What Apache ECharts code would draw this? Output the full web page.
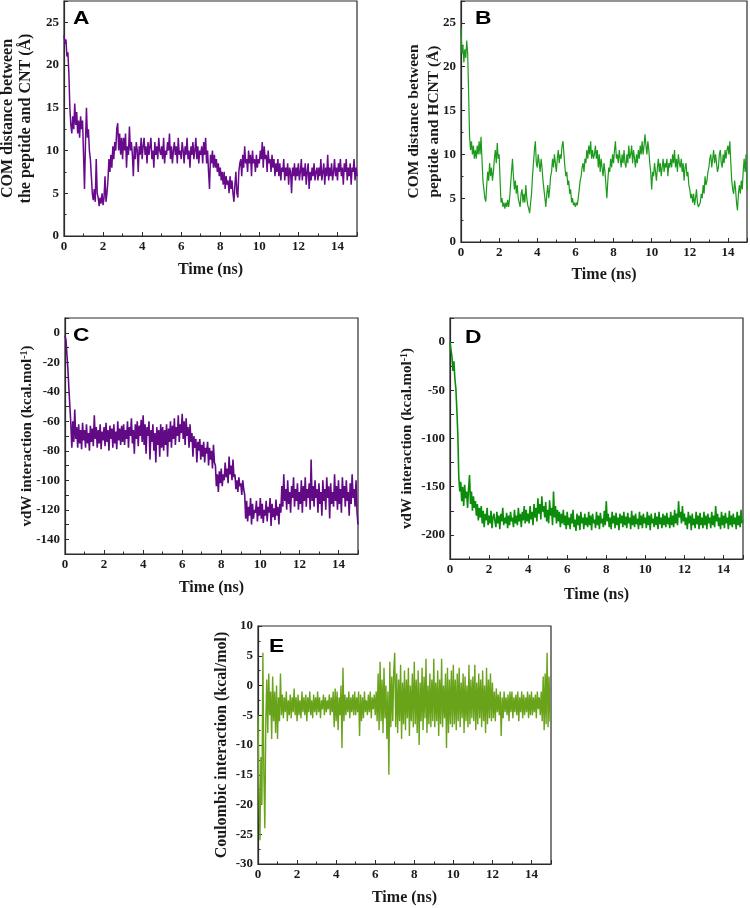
<!DOCTYPE html>
<html>
<head>
<meta charset="utf-8">
<script src="https://cdn.jsdelivr.net/npm/echarts@6/dist/echarts.min.js"></script>
<style>
html,body{margin:0;padding:0;background:#fff;}
#c{width:750px;height:908px;}
</style>
</head>
<body>
<div id="c"></div>
<script>
// Sampling step of all traces (ns); each row below = 1 ns (20 samples)
const timeStep = 0.05;

// A: COM distance peptide - CNT (Å), t = 0.00 ... 15.00
const comCNT = [
  23.5, 22.5, 23, 21, 21.5, 19, 15, 13, 12, 14, 12.5, 15.5, 13, 14.5, 12, 13.5, 11.5, 14, 12.5, 13.5,
  9.5, 5.5, 11, 15, 11.5, 12.5, 10, 9, 7, 5, 4.2, 5.5, 4, 9, 5, 4.5, 3.5, 4.5, 3.8, 5,
  3.6, 4.5, 7, 4, 5, 6.5, 9, 7.5, 9.5, 8, 10.5, 9, 11, 10, 12.5, 13.2, 10, 12, 9.5, 11.5,
  9, 11.5, 10, 12, 8, 10.5, 9.5, 12.8, 10, 11, 9.5, 7, 10.5, 9, 11, 10, 7.5, 10.5, 9.5, 11.5,
  9, 10.5, 11.5, 9.5, 10.5, 8.5, 11, 9.5, 10.5, 11.5, 9, 10, 8, 11, 9.5, 10.5, 9, 11.5, 10, 9.5,
  10.5, 9, 11.5, 8.5, 10, 9.5, 11, 10, 12, 9, 10.5, 8.5, 10, 11, 9.5, 10.5, 8.5, 11.5, 9.5, 10,
  9, 11, 10, 8.5, 10.5, 9.5, 11.5, 9, 10, 8, 10.5, 9.5, 11, 9, 10, 11.5, 9, 10.5, 8.5, 10,
  9.5, 10.5, 8.5, 11, 9.5, 11.5, 8.5, 10, 7.5, 5.5, 9.5, 8.5, 10, 8, 9.5, 8, 9, 7.5, 8.5, 7,
  8, 6.5, 7.5, 6, 7.5, 5.5, 7, 6, 6.5, 5, 7, 5.5, 6.5, 5, 4, 6, 7.5, 5, 4.5, 7.5,
  8.5, 9, 7, 9.5, 8, 10.5, 8.5, 9, 7.5, 10, 8.5, 9.5, 7, 10, 8.5, 9, 7.5, 9.5, 8, 9,
  8.5, 10, 9, 11, 8, 10.5, 9, 9.5, 7.5, 10, 8.5, 9, 7.5, 9.5, 8, 9, 7, 8.5, 7.5, 9,
  7, 8.5, 6.5, 8, 7.5, 9, 6.5, 8, 7, 8.5, 6, 8, 7.5, 5, 8, 7, 8.5, 6.5, 8, 7,
  8.5, 6.5, 7.5, 9, 6.5, 8, 7, 8.5, 6, 7.5, 8.5, 5.5, 7.5, 6.5, 8, 7, 8.5, 6.5, 7.5, 8,
  6.5, 8, 7, 9, 6.5, 7.5, 8.5, 6, 8, 7, 9.5, 6.5, 8, 7, 8.5, 6.5, 7.5, 9, 7, 8,
  6.5, 8.5, 7.5, 9, 7, 8, 6, 8.5, 7.5, 9, 6.5, 8, 7, 8.5, 6, 8, 7.5, 9, 6.5, 8,
  7
];

// B: COM distance peptide - HCNT (Å)
const comHCNT = [
  24.5, 21.5, 22.5, 20.5, 22, 21, 23, 21.5, 17, 12, 10.5, 11.5, 10, 11, 9.5, 10.5, 9.5, 11, 10, 11.5,
  10, 12, 9.5, 7, 6, 5, 4.6, 6.5, 8, 7, 9, 7.5, 8.5, 7, 8, 9.5, 10.5, 9, 11.3, 9.5,
  10, 7, 4.5, 5, 4, 4.5, 3.8, 4.5, 4, 4.8, 4, 5, 6.5, 8, 9.5, 7.5, 6, 7, 5.5, 6.5,
  5, 4.5, 4, 5.5, 6, 4.5, 5.5, 4.5, 6.5, 5, 4.2, 3.8, 3.3, 4.5, 5.5, 7.5, 9, 10.5, 11.5, 9,
  8.5, 10, 9, 8, 9.5, 8.5, 7, 6, 5, 4, 5.5, 6.5, 5, 6, 7.5, 8, 9.5, 8.5, 10, 9,
  8, 9.5, 10.5, 9, 10, 9.5, 11, 11.5, 10, 8.5, 7.5, 8, 6.5, 7, 5.5, 6, 4.5, 5, 4.2, 4.5,
  4, 4.5, 4.2, 5, 6, 7, 7.5, 8.5, 9, 8, 9.5, 9, 10.5, 9.5, 11, 10, 11.5, 9.5, 10.5, 9.5,
  10, 11, 9.5, 10.5, 8.5, 10, 8, 9.5, 8.5, 7.5, 9, 8, 6.5, 5, 7, 8.5, 8, 9.5, 8.5, 10,
  9, 10.5, 11.5, 9.5, 10, 9, 10.5, 9.5, 8.5, 10, 9, 10.5, 9, 8.5, 10, 9, 11, 9.5, 10, 11,
  9, 10.5, 9.5, 8.5, 10, 9, 10.5, 9.5, 11, 10, 11.5, 10, 11, 12.3, 11, 10, 11.5, 10.5, 9, 8,
  6, 8, 7.5, 9, 8, 7, 8.5, 9.5, 8, 9, 7.5, 8.5, 9.5, 8, 9, 8.5, 9.5, 7.5, 9, 8.5,
  9.5, 8.5, 10, 9, 10.5, 8.5, 9.5, 8, 10, 9, 8.5, 9.5, 8, 9, 7, 8.5, 9, 7.5, 8, 6.5,
  6, 5, 5.5, 4.5, 5.5, 4.2, 5, 6, 4.5, 4, 3.8, 4.5, 5.5, 5, 6.5, 5.5, 7.5, 6.5, 7, 8,
  8.5, 9.5, 10, 8.5, 9.5, 10.5, 9, 10, 9, 8, 8.5, 10, 10.5, 9, 8.5, 10, 9, 10.5, 9.5, 10.5,
  11, 10, 11.5, 9, 7, 6, 5.5, 7, 6, 4.5, 3.6, 5.5, 6.5, 5.5, 7, 6, 8, 9.5, 8, 10,
  6
];

// C: vdW interaction peptide - CNT (kcal/mol)
const vdwCNT = [
  -2, -5, -15, -25, -38, -50, -62, -78, -60, -74, -52, -72, -64, -78, -62, -75, -66, -79, -61, -73,
  -66, -78, -62, -75, -68, -80, -63, -74, -65, -77, -56, -72, -64, -78, -66, -75, -62, -79, -67, -73,
  -64, -77, -61, -74, -66, -80, -63, -72, -65, -78, -62, -75, -67, -79, -60, -73, -65, -76, -63, -74,
  -62, -76, -66, -72, -60, -78, -64, -70, -58, -75, -66, -82, -62, -72, -60, -77, -63, -70, -59, -74,
  -56, -76, -62, -82, -64, -70, -60, -86, -66, -74, -62, -80, -68, -88, -64, -76, -66, -84, -62, -78,
  -64, -80, -66, -76, -62, -84, -65, -74, -60, -78, -63, -72, -58, -76, -64, -70, -56, -74, -62, -68,
  -55, -72, -60, -76, -58, -70, -64, -78, -62, -74, -68, -84, -70, -78, -72, -88, -74, -80, -72, -86,
  -76, -84, -74, -88, -78, -82, -74, -90, -78, -86, -80, -92, -76, -88, -90, -104, -96, -108, -94, -102,
  -92, -104, -96, -100, -88, -98, -92, -102, -84, -96, -90, -100, -86, -98, -96, -106, -100, -108, -98, -104,
  -102, -110, -100, -106, -110, -126, -114, -128, -118, -124, -112, -130, -116, -126, -120, -122, -114, -128, -118, -124,
  -112, -126, -116, -129, -120, -124, -114, -128, -118, -122, -112, -131, -116, -125, -119, -127, -113, -124, -118, -130,
  -116, -122, -104, -118, -96, -114, -106, -120, -100, -116, -108, -122, -104, -112, -98, -118, -106, -114, -102, -120,
  -108, -116, -100, -122, -104, -114, -98, -118, -106, -112, -102, -120, -86, -114, -104, -118, -100, -112, -106, -122,
  -102, -116, -108, -124, -100, -114, -106, -120, -98, -112, -104, -126, -102, -116, -108, -118, -96, -114, -104, -120,
  -100, -116, -106, -122, -98, -112, -104, -118, -100, -114, -108, -124, -102, -116, -96, -112, -106, -118, -100, -122,
  -130
];

// D: vdW interaction peptide - HCNT (kcal/mol)
const vdwHCNT = [
  0, -8, -15, -30, -20, -38, -48, -70, -95, -140, -155, -145, -165, -150, -170, -148, -162, -155, -172, -152,
  -138, -168, -155, -175, -160, -172, -165, -180, -168, -185, -172, -182, -170, -188, -175, -192, -178, -185, -172, -190,
  -180, -188, -175, -193, -182, -178, -186, -192, -176, -188, -180, -194, -178, -186, -172, -190, -182, -188, -177, -193,
  -180, -190, -176, -186, -182, -192, -174, -188, -180, -190, -172, -186, -178, -192, -176, -185, -170, -188, -174, -186,
  -178, -188, -170, -184, -176, -190, -168, -182, -172, -186, -162, -178, -168, -184, -160, -176, -170, -182, -166, -186,
  -174, -188, -164, -180, -172, -190, -155, -182, -170, -188, -174, -186, -176, -192, -178, -188, -174, -190, -180, -194,
  -176, -190, -182, -194, -178, -188, -174, -192, -184, -196, -178, -190, -180, -195, -176, -188, -182, -194, -178, -190,
  -182, -192, -176, -190, -180, -195, -178, -188, -184, -193, -176, -190, -180, -194, -177, -188, -183, -192, -175, -190,
  -165, -186, -178, -192, -182, -194, -176, -188, -180, -193, -177, -190, -182, -195, -178, -188, -180, -192, -176, -190,
  -181, -193, -177, -188, -182, -194, -175, -190, -180, -192, -178, -189, -183, -194, -176, -190, -180, -193, -178, -188,
  -182, -193, -176, -190, -180, -195, -178, -188, -183, -192, -177, -190, -181, -194, -176, -189, -182, -193, -178, -190,
  -180, -192, -177, -189, -182, -193, -176, -190, -180, -192, -174, -188, -178, -190, -165, -182, -176, -188, -170, -186,
  -178, -190, -182, -194, -176, -188, -180, -195, -178, -190, -183, -193, -176, -189, -180, -194, -177, -190, -182, -193,
  -176, -190, -180, -194, -178, -188, -182, -193, -176, -190, -180, -192, -170, -186, -178, -191, -182, -194, -176, -190,
  -180, -193, -177, -188, -182, -194, -175, -190, -180, -192, -178, -189, -182, -194, -176, -190, -180, -192, -174, -188,
  -185
];

// E: Coulombic interaction (kcal/mol)
const coulomb = [
  -5, -18, -26, -12, -20, 5.5, -15, -24, -6, 1, -8, 2, -5, -1, -9, 1.5, -6, -1, -8, 0,
  -9, -2, -6, 2, -5, -1.5, -5.5, -2, -4.5, -1, -6, -2.5, -5, -1.5, -5.5, -2, -4.5, -0.5, -5, -2,
  -6, -1.5, -5, -2.5, -5.5, -1, -4.5, -2, -5, -1.5, -6, -2, -4.5, -1, -5, -2.5, -5.5, -1.5, -4.5, -2,
  -5, -1, -4.5, -2, -5.5, -2.5, -4, -1.5, -5, -2, -4.5, -2.5, -4, -1.5, -5, -2, -4.5, -1, -7, -0.5,
  -6, -1, -7.5, -2, -5, 0, -10.5, 3, -6, -1.5, -5, -2, -4.5, -1, -5.5, -2, -4.5, -1.5, -5, -1,
  -5, -2, -4.5, -1, -8.5, -1.5, -6, -2, -5.5, -1, -4.5, -2.5, -5, -1.5, -4.5, -1, -5.5, -2, -4, -1.5,
  -5, -1, -6, 2, -7.5, 4, -6, 1, -8, 3, -5.5, 0, -9, -1, -15, 4, -7, 1.5, -6, 2.5,
  5.5, -7, 2, -8, 1, -6, 3.5, -9, 0.5, -6.5, 2.5, -7.5, 1, -5.5, 3, -8.5, 0, -6, 2, -7,
  4, -6.5, 1, -8, 2.5, -10, 0.5, -6, 3, -7.5, 1.5, -5.5, 4.5, -8, 0, -6.5, 2, -7, 1, -6,
  4.5, -7, 0.5, -6, 2.5, -8.5, 1, -6.5, 4.5, -7, 0, -5.5, 2, -10.5, 3, -8, 1, -6.5, 2.5, -7,
  3.5, -6.5, 1, -7.5, 2, -6, 3, -7, 0.5, -5.5, 2, -8, 1.5, -6, 0, -7, 3.5, -6.5, 1, -5.5,
  1.5, -6, 3.5, -7.5, 0.5, -6.5, 2, -5.5, 1, -7, 2.5, -6, 0, -8, 3, -6.5, 1, -5.5, 2, -6,
  0.5, -5.5, -1, -6, -0.5, -4.5, -1.5, -5, -1, -8.5, -2, -5.5, -1, -4.5, -2, -5, -1.5, -6, -1, -4.5,
  -1, -5.5, -2, -4.5, -1.5, -5, -1, -6, -2, -4.5, -1, -5.5, -1.5, -5, -2, -4.5, -1, -5.5, -1.5, -5,
  -1, -5, -2, -4.5, -1.5, -5.5, -1, -4, -2, -5, -1, -6, 1.5, -7.5, 2, -6.5, 5.5, -7, 1.5, -6,
  -6
];

const SERIF = '"Liberation Serif","Times New Roman",serif';
const SANS = '"Liberation Sans",Arial,sans-serif';
const AX = '#2b2b2b';
const TXT = '#1a1a1a';

function pairs(arr) {
  return arr.map((v, i) => [Math.round(i * timeStep * 100) / 100, v]);
}

const grids = [
  {left: 64, top: 1, width: 293, height: 235},
  {left: 461, top: 1, width: 286, height: 241},
  {left: 65, top: 318, width: 293, height: 236},
  {left: 450, top: 318, width: 293, height: 241},
  {left: 258, top: 626, width: 293, height: 238}
].map(g => Object.assign({show: true, borderColor: AX, borderWidth: 1.2, containLabel: false, outerBoundsMode: 'none'}, g));

const xGaps = [26, 25, 26, 28, 26];
const xAxes = grids.map((g, i) => ({
  type: 'value', gridIndex: i, min: 0, max: 15, interval: 2,
  name: 'Time (ns)', nameLocation: 'middle', nameGap: xGaps[i], nameMoveOverlap: false,
  nameTextStyle: {fontFamily: SERIF, fontWeight: 'bold', fontSize: 16, color: TXT},
  axisLine: {show: true, onZero: false, lineStyle: {color: AX, width: 1.2}},
  axisTick: {show: true, inside: true, length: 4, lineStyle: {color: AX}},
  minorTick: {show: true, splitNumber: 2, length: 2.5, lineStyle: {color: AX}},
  splitLine: {show: false},
  axisLabel: {fontFamily: SERIF, fontWeight: 'bold', fontSize: 13, color: TXT, margin: 4, showMaxLabel: false}
}));

const yBase = {
  type: 'value', nameLocation: 'middle', nameMoveOverlap: false,
  axisLine: {show: true, onZero: false, lineStyle: {color: AX, width: 1.2}},
  axisTick: {show: true, inside: true, length: 4, lineStyle: {color: AX}},
  splitLine: {show: false},
};
const yLabel = {fontFamily: SERIF, fontWeight: 'bold', fontSize: 13, color: TXT, margin: 5};
const nameStyle = {fontFamily: SERIF, fontWeight: 'bold', fontSize: 16, color: TXT};
const minor = {show: true, splitNumber: 2, length: 2.5, lineStyle: {color: AX}};
const supRich = {
  a: Object.assign({}, nameStyle, {fontSize: 15, lineHeight: 16}),
  s: Object.assign({}, nameStyle, {fontSize: 10, lineHeight: 16, verticalAlign: 'top'})
};

const yAxes = [
  Object.assign({}, yBase, {
    gridIndex: 0, min: 0, max: 27.5, interval: 5,
    name: 'COM distance between\nthe peptide and CNT (Å)', nameGap: 29,
    nameTextStyle: Object.assign({}, nameStyle, {lineHeight: 18}),
    minorTick: minor,
    axisLabel: Object.assign({}, yLabel, {showMaxLabel: false})
  }),
  Object.assign({}, yBase, {
    gridIndex: 1, min: 0, max: 27.5, interval: 5,
    name: 'COM distance between\npeptide and HCNT (Å)', nameGap: 17,
    nameTextStyle: Object.assign({}, nameStyle, {fontSize: 15.5, lineHeight: 20}),
    minorTick: minor,
    axisLabel: Object.assign({}, yLabel, {showMaxLabel: false})
  }),
  Object.assign({}, yBase, {
    gridIndex: 2, min: -150, max: 10, interval: 10,
    name: '{a|vdW interaction (kcal.mol}{s|-1}{a|)}', nameGap: 30,
    nameTextStyle: {rich: supRich},
    axisLabel: Object.assign({}, yLabel, {formatter: v => (v % 20 === 0 ? String(v) : '')})
  }),
  Object.assign({}, yBase, {
    gridIndex: 3, min: -225, max: 25, interval: 25,
    name: '{a|vdW interaction (kcal.mol}{s|-1}{a|)}', nameGap: 35,
    nameTextStyle: {rich: supRich},
    axisLabel: Object.assign({}, yLabel, {formatter: v => (v % 50 === 0 ? String(v) : '')})
  }),
  Object.assign({}, yBase, {
    gridIndex: 4, min: -30, max: 10, interval: 5,
    name: 'Coulombic interaction (kcal/mol)', nameGap: 28,
    nameTextStyle: Object.assign({}, nameStyle, {lineHeight: 16}),
    minorTick: minor,
    axisLabel: yLabel
  })
];

const colors = ['#680a8c', '#1c9a1c', '#620a86', '#0b8c0b', '#69a31a'];
const widths = [1.5, 1.2, 1.6, 1.6, 1.4];
const datasets = [comCNT, comHCNT, vdwCNT, vdwHCNT, coulomb];
const series = datasets.map((d, i) => ({
  type: 'line', xAxisIndex: i, yAxisIndex: i, data: pairs(d),
  showSymbol: false, symbol: 'none', smooth: false,
  lineStyle: {color: colors[i], width: widths[i]}, z: 2
}));

const letters = [
  ['A', 73, 9], ['B', 475, 9], ['C', 73, 326], ['D', 465, 328], ['E', 269, 637]
].map(([t, x, y]) => ({
  type: 'text', x: x, y: y, scaleX: 1.2, z: 10,
  style: {text: t, fill: '#000', font: 'bold 19px ' + SANS, textVerticalAlign: 'top'}
}));

const chart = echarts.init(document.getElementById('c'));
chart.setOption({
  animation: false,
  backgroundColor: '#fff',
  graphic: letters,
  grid: grids,
  xAxis: xAxes,
  yAxis: yAxes,
  series: series
});
</script>
</body>
</html>
